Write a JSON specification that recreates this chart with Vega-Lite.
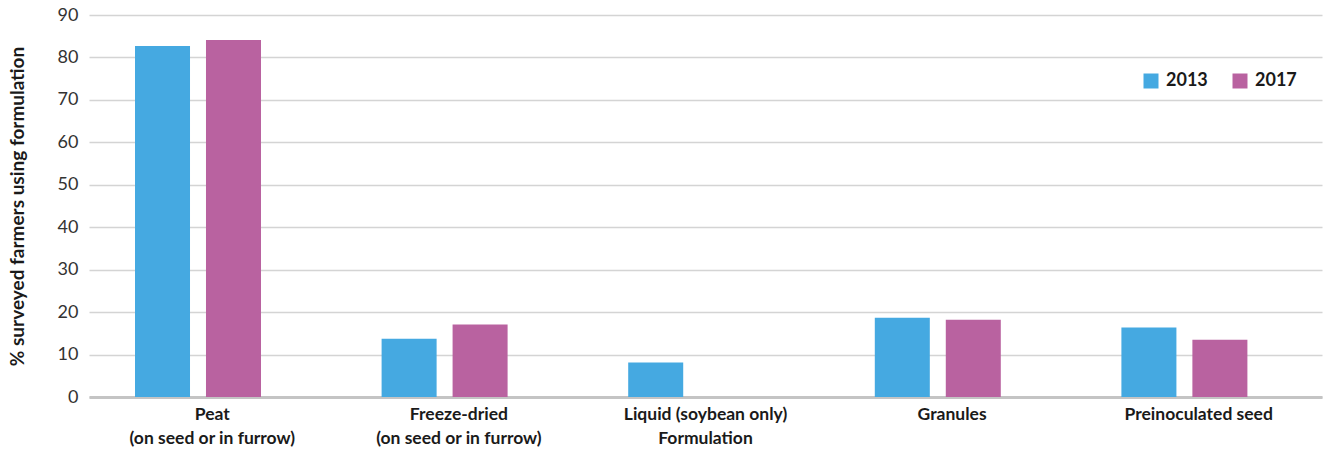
{
  "$schema": "https://vega.github.io/schema/vega-lite/v6.json",
  "autosize": "none",
  "padding": {"left": 89, "top": 15, "right": 5, "bottom": 56},
  "width": 1233,
  "height": 382,
  "background": "white",
  "config": {
    "view": {"stroke": null},
    "font": "Lato"
  },
  "data": {
    "values": [
      {"formulation": "Peat|(on seed or in furrow)", "year": "2013", "percent": 82.7},
      {"formulation": "Peat|(on seed or in furrow)", "year": "2017", "percent": 84.1},
      {"formulation": "Freeze-dried|(on seed or in furrow)", "year": "2013", "percent": 13.7},
      {"formulation": "Freeze-dried|(on seed or in furrow)", "year": "2017", "percent": 17.1},
      {"formulation": "Liquid (soybean only)|Formulation", "year": "2013", "percent": 8.1},
      {"formulation": "Granules", "year": "2013", "percent": 18.7},
      {"formulation": "Granules", "year": "2017", "percent": 18.2},
      {"formulation": "Preinoculated seed", "year": "2013", "percent": 16.4},
      {"formulation": "Preinoculated seed", "year": "2017", "percent": 13.5}
    ]
  },
  "mark": {"type": "bar"},
  "encoding": {
    "x": {
      "field": "formulation",
      "type": "nominal",
      "sort": null,
      "scale": {"paddingInner": 0, "paddingOuter": 0},
      "axis": {
        "title": null,
        "labelAngle": 0,
        "labelExpr": "split(datum.label, '|')",
        "labelFont": "Lato",
        "labelFontWeight": "bold",
        "labelFontSize": 17.5,
        "labelColor": "#1a1a1a",
        "labelLineHeight": 24,
        "labelPadding": 8,
        "ticks": false,
        "domainColor": "#c4c4c4",
        "domainWidth": 3,
        "grid": false
      }
    },
    "xOffset": {
      "field": "year",
      "type": "nominal",
      "scale": {"domain": ["2013", "2017"], "range": [46, 172], "paddingInner": 0.225, "paddingOuter": 0}
    },
    "y": {
      "field": "percent",
      "type": "quantitative",
      "scale": {"domain": [0, 90], "nice": false},
      "axis": {
        "title": "% surveyed farmers using formulation",
        "titleFont": "Lato",
        "titleFontWeight": "bold",
        "titleFontSize": 19,
        "titleColor": "#1a1a1a",
        "titlePadding": 30,
        "values": [0, 10, 20, 30, 40, 50, 60, 70, 80, 90],
        "labelFont": "Lato",
        "labelFontSize": 18,
        "labelColor": "#333333",
        "labelPadding": 11,
        "ticks": false,
        "domain": false,
        "gridColor": "#d4d4d4",
        "gridWidth": 1.5
      }
    },
    "color": {
      "field": "year",
      "type": "nominal",
      "scale": {"domain": ["2013", "2017"], "range": ["#45a9e1", "#b962a0"]},
      "legend": {
        "title": null,
        "orient": "none",
        "direction": "horizontal",
        "legendX": 1053,
        "legendY": 57,
        "symbolType": "square",
        "symbolSize": 225,
        "symbolStrokeWidth": 0,
        "symbolOpacity": 1,
        "labelFont": "Lato",
        "labelFontWeight": "bold",
        "labelFontSize": 18,
        "labelColor": "#1a1a1a",
        "labelOffset": 6,
        "columnPadding": 23
      }
    }
  }
}
